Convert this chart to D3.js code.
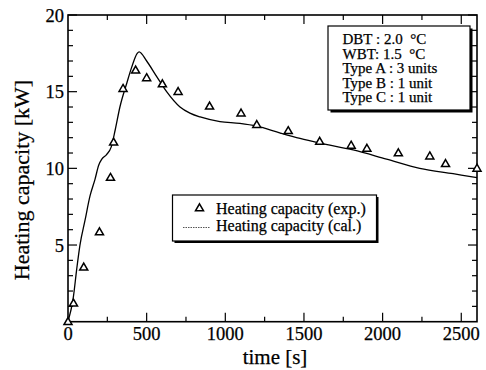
<!DOCTYPE html>
<html lang="en">
<head>
<meta charset="UTF-8">
<title>Heating capacity</title>
<script src="https://cdn.jsdelivr.net/npm/d3@7"></script>
<style>
  body { margin: 0; background: #fff; }
  text { font-family: "Liberation Serif", "Times New Roman", serif; fill: #000; stroke: #000; stroke-width: 0.25; }
</style>
</head>
<body>
<svg width="486" height="370"></svg>
<script>
// measured points (exp.)
var expTime = [0, 35, 100, 200, 270, 290, 350, 430, 500, 600, 700, 900, 1100, 1200, 1400, 1600, 1800, 1900, 2100, 2300, 2400, 2600];
var expCap  = [0, 1.2, 3.55, 5.85, 9.4, 11.7, 15.2, 16.4, 15.9, 15.5, 15.0, 14.05, 13.6, 12.85, 12.45, 11.75, 11.5, 11.3, 11.0, 10.8, 10.3, 10.0];

// calculated curve (cal.)
var calTime = [0, 34, 55, 76, 108, 140, 172, 195, 215, 245, 275, 300, 330, 375, 405, 440, 452, 500, 563, 627, 712, 775, 840, 966, 1093, 1200, 1350, 1475, 1600, 1813, 2025, 2236, 2448, 2600];
var calCap  = [0, 1.6, 3.4, 5.0, 6.6, 8.2, 9.3, 10.2, 10.6, 10.9, 11.4, 12.5, 14.0, 15.6, 16.6, 17.5, 17.6, 17.0, 16.0, 15.0, 14.0, 13.6, 13.35, 13.05, 12.93, 12.75, 12.3, 11.95, 11.65, 11.2, 10.6, 10.0, 9.65, 9.4];

var xTicks = [0, 500, 1000, 1500, 2000, 2500];
var yTicks = [5, 10, 15, 20];
var noteLines = ["DBT : 2.0\u00A0\u00A0\u00B0C", "WBT: 1.5\u00A0\u00A0\u00B0C", "Type A : 3 units", "Type B : 1 unit", "Type C : 1 unit"];
var legendLabels = ["Heating capacity (exp.)", "Heating capacity (cal.)"];

var svg = d3.select("svg");
var pLeft = 68, pRight = 477, pTop = 15, pBottom = 321.7;

var x = d3.scaleLinear().domain([0, 2600]).range([pLeft, pRight]);
var y = d3.scaleLinear().domain([0, 20]).range([pBottom, pTop]);

// ticks (inward, all four sides)
var xMinor = d3.range(250, 2600, 500);
var yMinor = d3.range(1, 20).filter(function(d) { return d % 5 != 0; });

var g = svg.append("g").attr("stroke", "#000").attr("stroke-width", 1.2);
xTicks.concat(xMinor).forEach(function(t) {
  var len = xTicks.indexOf(t) >= 0 ? 9 : 5;
  if (t == 0) return;
  g.append("line").attr("x1", x(t)).attr("x2", x(t)).attr("y1", pBottom).attr("y2", pBottom - len);
  g.append("line").attr("x1", x(t)).attr("x2", x(t)).attr("y1", pTop).attr("y2", pTop + len);
});
yTicks.concat(yMinor).forEach(function(v) {
  var len = yTicks.indexOf(v) >= 0 ? 9 : 5;
  g.append("line").attr("x1", pLeft).attr("x2", pLeft + len).attr("y1", y(v)).attr("y2", y(v));
  g.append("line").attr("x1", pRight).attr("x2", pRight - len).attr("y1", y(v)).attr("y2", y(v));
});

// frame
svg.append("rect")
  .attr("x", pLeft).attr("y", pTop)
  .attr("width", pRight - pLeft).attr("height", pBottom - pTop)
  .attr("fill", "none").attr("stroke", "#000").attr("stroke-width", 1.6);

// tick labels
svg.selectAll(".xl").data(xTicks).join("text")
  .attr("class", "xl")
  .attr("x", function(d) { return x(d); })
  .attr("y", 340)
  .attr("text-anchor", "middle")
  .attr("font-size", 18.5)
  .text(function(d) { return d; });

svg.selectAll(".yl").data(yTicks).join("text")
  .attr("class", "yl")
  .attr("x", 64)
  .attr("y", function(d) { return y(d) + 6.5; })
  .attr("text-anchor", "end")
  .attr("font-size", 18.5)
  .text(function(d) { return d; });

// axis titles
svg.append("text")
  .attr("x", 275).attr("y", 364)
  .attr("text-anchor", "middle")
  .attr("font-size", 21)
  .text("time [s]");

svg.append("text")
  .attr("transform", "translate(29,180) rotate(-90)")
  .attr("text-anchor", "middle")
  .attr("font-size", 22)
  .text("Heating capacity [kW]");

// calculated line
var line = d3.line()
  .x(function(d) { return x(d[0]); })
  .y(function(d) { return y(d[1]); })
  .curve(d3.curveMonotoneX);

svg.append("path")
  .datum(d3.zip(calTime, calCap))
  .attr("d", line)
  .attr("fill", "none")
  .attr("stroke", "#000")
  .attr("stroke-width", 1.3);

// experimental triangles
var tri = d3.symbol().type(d3.symbolTriangle).size(28);
svg.selectAll(".pt").data(d3.zip(expTime, expCap)).join("path")
  .attr("class", "pt")
  .attr("d", tri)
  .attr("transform", function(d) { return "translate(" + x(d[0]) + "," + (y(d[1]) + 0.5) + ")"; })
  .attr("fill", "#fff")
  .attr("stroke", "#000")
  .attr("stroke-width", 1.5);

// note box
var nb = {x: 328, y: 26, w: 142, h: 84};
svg.append("rect").attr("x", nb.x + 2.5).attr("y", nb.y + 2.5).attr("width", nb.w).attr("height", nb.h).attr("fill", "#000");
svg.append("rect").attr("x", nb.x).attr("y", nb.y).attr("width", nb.w).attr("height", nb.h)
  .attr("fill", "#fff").attr("stroke", "#000").attr("stroke-width", 1.2);
svg.selectAll(".note").data(noteLines).join("text")
  .attr("class", "note")
  .attr("x", 342.5)
  .attr("y", function(d, i) { return 44 + i * 14.5; })
  .attr("font-size", 15)
  .text(function(d) { return d; });

// legend box
var lb = {x: 172.5, y: 195, w: 204, h: 46};
svg.append("rect").attr("x", lb.x + 2).attr("y", lb.y + 2).attr("width", lb.w).attr("height", lb.h).attr("fill", "#000");
svg.append("rect").attr("x", lb.x).attr("y", lb.y).attr("width", lb.w).attr("height", lb.h)
  .attr("fill", "#fff").attr("stroke", "#000").attr("stroke-width", 1.2);
svg.append("path")
  .attr("d", tri)
  .attr("transform", "translate(199.5,208.5)")
  .attr("fill", "#fff").attr("stroke", "#000").attr("stroke-width", 1.5);
svg.append("line")
  .attr("x1", 183).attr("x2", 209.5).attr("y1", 227.5).attr("y2", 227.5)
  .attr("stroke", "#555").attr("stroke-width", 1).attr("stroke-dasharray", "1.5,1");
svg.selectAll(".leg").data(legendLabels).join("text")
  .attr("class", "leg")
  .attr("x", 216)
  .attr("y", function(d, i) { return 213.5 + i * 17.5; })
  .attr("font-size", 16)
  .text(function(d) { return d; });
</script>
</body>
</html>
